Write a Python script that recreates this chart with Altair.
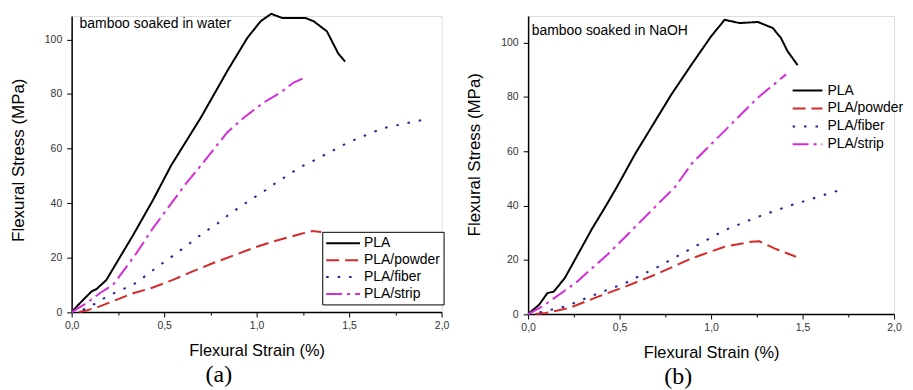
import altair as alt
import pandas as pd

SERIES = ["PLA", "PLA/powder", "PLA/fiber", "PLA/strip"]
COLORS = ["#000000", "#d42a2a", "#22229e", "#d62cd6"]
DASHES = [[1, 0], [13, 6], [2.5, 9], [16, 5, 3, 5]]

# ---- (a) bamboo soaked in water ----
a_pla_x = [0, 0.045, 0.108, 0.134, 0.188, 0.215, 0.332, 0.439, 0.538, 0.699, 0.842, 0.95, 1.022, 1.079, 1.138, 1.183, 1.263, 1.308, 1.38, 1.416, 1.44, 1.478]
a_pla_y = [0, 3.3, 7.6, 8.4, 11.8, 14.9, 28.2, 41, 53.8, 71.4, 88.5, 100.6, 106.7, 109.4, 107.9, 107.9, 107.9, 106.7, 103, 98.2, 95, 91.9]
a_powder_x = [0.04, 0.081, 0.152, 0.242, 0.332, 0.439, 0.547, 0.654, 0.762, 0.869, 0.977, 1.084, 1.246, 1.3, 1.35]
a_powder_y = [0, 0.6, 2.1, 4.5, 6.9, 9, 11.8, 14.9, 17.9, 20.6, 23.4, 25.8, 28.8, 29.7, 29.4]
a_fiber_x = [0, 0.054, 0.134, 0.197, 0.26, 0.332, 0.394, 0.457, 0.529, 0.591, 0.654, 0.717, 0.789, 0.851, 0.914, 0.977, 1.048, 1.111, 1.237, 1.31, 1.497, 1.685, 1.89]
a_fiber_y = [0, 0.6, 3.3, 6, 7.9, 10, 13, 16.3, 19.7, 22.8, 26, 29.3, 32.5, 35.8, 38.8, 41.6, 44.7, 47.7, 53.2, 55.6, 62.3, 67.5, 70.4]
a_strip_x = [0, 0.081, 0.152, 0.224, 0.278, 0.349, 0.439, 0.538, 0.618, 0.699, 0.842, 0.932, 1.039, 1.129, 1.2, 1.254]
a_strip_y = [0, 3.3, 6.9, 10, 14.9, 21.5, 30.7, 39.8, 47.1, 53.8, 66, 71.4, 76.9, 80.5, 84.2, 85.8]

# ---- (b) bamboo soaked in NaOH ----
b_pla_x = [0, 0.06, 0.105, 0.141, 0.178, 0.2, 0.25, 0.35, 0.422, 0.485, 0.585, 0.784, 0.893, 1.0, 1.074, 1.156, 1.255, 1.337, 1.382, 1.418, 1.473]
b_pla_y = [0, 3.4, 7.7, 8.3, 11.4, 13.2, 19.3, 31.5, 39.5, 46.8, 59, 81, 91.9, 102.3, 108.4, 107.2, 107.6, 105.4, 101.7, 96.8, 91.7]
b_powder_x = [0.04, 0.096, 0.223, 0.386, 0.531, 0.712, 0.893, 1.074, 1.219, 1.264, 1.346, 1.464]
b_powder_y = [0, 0.4, 2.2, 6.5, 10.1, 15, 20.5, 24.8, 26.6, 26.8, 24.2, 21.1]
b_fiber_x = [0, 0.06, 0.205, 0.386, 0.531, 0.712, 0.893, 1.074, 1.255, 1.437, 1.7]
b_fiber_y = [0, 0.6, 2.8, 7.7, 11.4, 17.5, 24.2, 30.9, 35.8, 40.1, 45.6]
b_strip_x = [0, 0.078, 0.259, 0.44, 0.64, 0.694, 0.803, 0.893, 1.074, 1.255, 1.41]
b_strip_y = [0, 2.8, 11.4, 22.3, 35.8, 39.5, 46.8, 55.3, 67.5, 79.7, 88.3]

ANN_TEXT = ["bamboo soaked in water", "bamboo soaked in NaOH"]
ANN_X = [0.043, 0.02]
ANN_Y = [105.7, 104.3]
CAPTIONS = ["(a)", "(b)"]
X_TICKS = [0, 0.25, 0.5, 0.75, 1.0, 1.25, 1.5, 1.75, 2.0]
Y_TICKS = [0, 10, 20, 30, 40, 50, 60, 70, 80, 90, 100]

FONT = "Liberation Sans"


def make_df(xs_list, ys_list):
    rows = []
    for name, xs, ys in zip(SERIES, xs_list, ys_list):
        for i, (xv, yv) in enumerate(zip(xs, ys)):
            rows.append({"series": name, "i": i, "x": xv, "y": yv})
    return pd.DataFrame(rows)


def panel(df, ymax, width, height, ann_idx, legend_kw, title_dx, title_y):
    x_axis = alt.Axis(
        values=X_TICKS,
        labelExpr="datum.value % 0.5 === 0 ? replace(format(datum.value, '.1f'), '.', ',') : ''",
        tickSize={"condition": {"test": "datum.value % 0.5 === 0", "value": 5}, "value": 3},
        grid=False, domainColor="black", domainWidth=1.5, tickColor="black", tickWidth=1,
        labelFont=FONT, labelFontSize=10.5, labelColor="#333333", labelPadding=4,
        titleFont=FONT, titleFontSize=16.5, titleFontWeight="normal", titleColor="black",
        titlePadding=11, labelFlush=False,
    )
    y_axis = alt.Axis(
        values=Y_TICKS,
        labelExpr="datum.value % 20 === 0 ? datum.label : ''",
        tickSize={"condition": {"test": "datum.value % 20 === 0", "value": 5}, "value": 3},
        grid=False, domainColor="black", domainWidth=1.5, tickColor="black", tickWidth=1,
        labelFont=FONT, labelFontSize=10.5, labelColor="#333333", labelPadding=5,
        titleFont=FONT, titleFontSize=17, titleFontWeight="normal", titleColor="black",
        titlePadding=17, titleY=title_y,
    )
    legend = alt.Legend(
        title=None, orient="none", direction="vertical",
        labelFont=FONT, labelFontSize=14, labelColor="black",
        symbolStrokeWidth=2, symbolSize=225,
        **legend_kw,
    )
    lines = alt.Chart(df).mark_line(strokeWidth=2).encode(
        x=alt.X("x:Q", scale=alt.Scale(domain=[0, 2], nice=False), axis=x_axis, title="Flexural Strain (%)"),
        y=alt.Y("y:Q", scale=alt.Scale(domain=[0, ymax], nice=False, zero=True), axis=y_axis, title="Flexural Stress (MPa)"),
        color=alt.Color("series:N", scale=alt.Scale(domain=SERIES, range=COLORS), legend=legend),
        strokeDash=alt.StrokeDash("series:N", scale=alt.Scale(domain=SERIES, range=DASHES), legend=legend),
        order="i:Q",
    )
    ann_df = pd.DataFrame({"t": [ANN_TEXT[ann_idx]], "x": [ANN_X[ann_idx]], "y": [ANN_Y[ann_idx]]})
    ann = alt.Chart(ann_df).mark_text(align="left", baseline="middle", font=FONT, fontSize=14, color="black").encode(
        x="x:Q", y="y:Q", text="t:N"
    )
    return alt.layer(lines, ann).properties(
        width=width, height=height,
        title=alt.TitleParams(CAPTIONS[ann_idx], orient="bottom", font="Liberation Serif", fontSize=24,
                              fontWeight="normal", color="black", anchor="middle", dx=title_dx, offset=4),
    )


df_a = make_df([a_pla_x, a_powder_x, a_fiber_x, a_strip_x], [a_pla_y, a_powder_y, a_fiber_y, a_strip_y])
df_b = make_df([b_pla_x, b_powder_x, b_fiber_x, b_strip_x], [b_pla_y, b_powder_y, b_fiber_y, b_strip_y])

left = panel(df_a, 108.6, 372, 297.7, 0,
             dict(legendX=252, legendY=217, symbolType="M-2.27,0H2.27", symbolOffset=9.5, labelOffset=12.5,
                  rowPadding=1, padding=3, strokeColor="black", fillColor="white"),
             -38, 144.5)
right = panel(df_b, 109.8, 368, 299.7, 1,
              dict(legendX=265, legendY=66.5, symbolType="M-2,0H2", symbolOffset=7.5, labelOffset=11.5,
                   rowPadding=2, padding=0),
              -33, 139)

chart = alt.hconcat(left, right, spacing=87, bounds="flush").resolve_scale(
    color="independent", strokeDash="independent"
).resolve_legend(color="independent", strokeDash="independent").properties(
    padding={"left": 0, "top": 0, "right": 0, "bottom": 0}
).configure_view(strokeWidth=0).configure(background="white")

chart.save("out.html", embed_options={"renderer": "svg", "actions": False})
